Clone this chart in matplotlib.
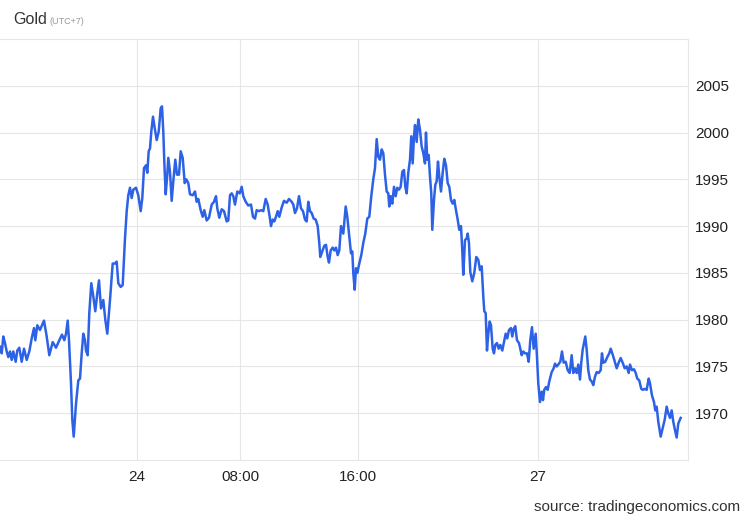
import matplotlib.pyplot as plt

plt.rcParams['font.family'] = ['Liberation Sans', 'DejaVu Sans']

# time position (chart time steps) and gold price
t = [0, 1.7, 3.3, 5, 6.7, 8.3, 10, 11.7, 13.3, 15.7, 17.3, 19.3, 21.7, 24, 26.7, 29.3,
     31.7, 34, 35.3, 37.3, 40, 44, 46.7, 49.3, 52.7, 56, 59.3, 62, 64.3, 66, 67.7, 69,
     71, 72.3, 73.7, 76, 78.3, 80, 81.7, 83.3, 85, 86, 87.7, 89.3, 91.3, 93.3, 95.3, 97.3,
     99, 101, 103.3, 105.3, 107.3, 110, 112.7, 115, 116.7, 118.3, 120.7, 122.7, 125, 126.7,
     128.3, 130, 131.7, 133.3, 136, 138.3, 140.7, 142.3, 144, 146, 147.3, 148.7, 150, 151.3,
     153, 154.7, 156.7, 158.7, 160.7, 162, 163.3, 164.3, 165.7, 167.3, 168.3, 170, 171.7,
     173.3, 175.3, 177, 179, 180.7, 182.7, 184.7, 186.3, 188.3, 190, 192.7, 195, 196.7,
     198.3, 200.7, 202.7, 204.3, 206.7, 209, 211.7, 214, 216, 217.3, 219.3, 221.7, 224,
     226.7, 228.3, 230, 231.7, 233.3, 235, 237.3, 239.7, 241.7, 243.3, 245.7, 248.3, 251,
     253, 255, 256.7, 259, 261, 263.3, 265.7, 267.7, 269.7, 271, 272.7, 274.3, 276, 277.7,
     279.3, 281.7, 284, 286.7, 289, 291.7, 293.3, 295, 297, 299, 301, 303, 305, 306.7,
     308.3, 310, 311.7, 313.7, 315.7, 317.7, 319.3, 320.3, 322.3, 324.3, 326, 327.7, 329,
     330.7, 332.7, 334.3, 336, 337.7, 339.3, 341, 343.3, 345.7, 347.3, 349.3, 351, 352.3,
     353.3, 354.7, 356, 357.3, 359.3, 361.3, 363.3, 365.3, 367.3, 369.3, 371.3, 373.3, 375,
     376.7, 378.3, 380, 381.7, 383.3, 385, 386.7, 388.3, 389.3, 390.7, 392.3, 394, 395.7,
     397.3, 399, 400.7, 402.3, 404, 405.3, 406.7, 408.3, 410, 411.3, 412.7, 414, 415,
     416.7, 418.3, 420, 421.7, 423.3, 425, 426, 427.3, 428.7, 430, 431.3, 432.3, 434,
     435.3, 436.7, 438, 439.3, 441, 442.7, 444.3, 446, 447.7, 449.3, 451, 452.7, 454.3,
     456, 457.7, 459.3, 461, 462.3, 463.3, 465, 466.7, 467.7, 469, 470.3, 472.3, 474.3,
     476.3, 478.3, 480, 481.7, 483.3, 484.3, 485.7, 487, 488.3, 489.7, 491, 492.7, 494,
     495.3, 497, 498.7, 500.3, 502.3, 504, 505.7, 507.3, 509, 511, 512.3, 513.7, 515.3,
     517, 519, 520.3, 521.7, 523.3, 525, 527, 528.7, 530.3, 532, 533.7, 535.7, 537, 538.3,
     540, 541.7, 543, 544.3, 546, 547.7, 549.3, 551.7, 553.7, 555, 556.7, 558.3, 560.3,
     562, 563.7, 565.7, 567.7, 569.7, 571.7, 573.3, 575, 576.7, 578.3, 580, 581.3, 582.7,
     584, 585.3, 586.7, 588.3, 590, 591.7, 593.3, 595, 596.7, 598.7, 600.7, 602, 603.3,
     605.3, 607.3, 609.3, 610.7, 612.3, 614.3, 616.7, 618.7, 620.7, 622.7, 624.7, 626.7,
     628.7, 630, 632, 634, 635.7, 637.3, 639.3, 641.3, 643, 644.7, 646.7, 648.7, 650, 652,
     654, 655.3, 656.7, 658.3, 660.7, 662.7, 664.7, 666.7, 668.3, 670, 671.7, 673.3, 675,
     676.7, 678.3, 680.7]

price = [1977.1, 1976.4, 1978.2, 1977.5, 1976.6, 1976.0, 1976.6, 1975.7, 1976.6, 1975.5,
         1976.7, 1977.0, 1975.5, 1976.9, 1975.7, 1976.6, 1978.0, 1979.1, 1977.8, 1979.4,
         1978.9, 1979.9, 1978.2, 1976.2, 1977.6, 1977.0, 1977.8, 1978.4, 1977.8, 1978.5,
         1979.9, 1977.8, 1973.2, 1969.3, 1967.5, 1971.0, 1973.5, 1973.7, 1976.4, 1978.5,
         1977.8, 1976.7, 1976.2, 1980.7, 1983.9, 1982.5, 1980.9, 1982.8, 1984.2, 1981.2,
         1982.1, 1980.0, 1978.5, 1982.1, 1986.0, 1986.0, 1986.2, 1983.9, 1983.5, 1983.7,
         1988.7, 1991.6, 1993.3, 1994.1, 1993.0, 1993.9, 1994.1, 1993.3, 1991.6, 1993.0,
         1996.2, 1996.5, 1995.7, 1998.0, 1998.3, 2000.1, 2001.7, 2000.5, 1999.2, 2000.1,
         2002.6, 2002.8, 2000.1, 1996.9, 1993.4, 1995.5, 1997.3, 1995.8, 1992.7, 1994.8,
         1997.1, 1995.5, 1995.5, 1998.0, 1997.3, 1994.6, 1995.0, 1994.6, 1993.4, 1993.3,
         1993.7, 1992.6, 1992.9, 1991.7, 1991.0, 1991.7, 1990.6, 1990.9, 1992.3, 1992.6,
         1993.2, 1991.9, 1990.9, 1991.8, 1991.6, 1990.5, 1990.6, 1993.3, 1993.5, 1993.2,
         1992.3, 1993.7, 1993.5, 1994.2, 1993.2, 1992.6, 1992.2, 1992.3, 1991.0, 1990.8,
         1991.7, 1991.6, 1991.7, 1991.6, 1992.9, 1992.3, 1991.0, 1990.0, 1990.7, 1990.5,
         1991.0, 1991.6, 1991.0, 1992.0, 1992.7, 1992.5, 1992.9, 1992.6, 1992.3, 1991.4,
         1991.9, 1993.2, 1991.9, 1991.6, 1990.7, 1990.5, 1992.6, 1991.6, 1991.4, 1990.8,
         1990.7, 1990.0, 1988.2, 1986.7, 1987.3, 1987.9, 1988.0, 1986.7, 1986.1, 1987.4,
         1987.7, 1987.4, 1987.7, 1986.9, 1987.4, 1990.0, 1989.2, 1992.1, 1991.0, 1988.9,
         1987.1, 1987.3, 1985.0, 1983.2, 1985.5, 1985.0, 1986.0, 1986.9, 1988.2, 1989.2,
         1990.8, 1991.0, 1993.2, 1995.0, 1996.2, 1999.3, 1997.4, 1997.1, 1998.2, 1997.8,
         1995.5, 1993.7, 1993.5, 1992.1, 1993.2, 1992.4, 1994.2, 1993.2, 1994.1, 1993.9,
         1994.2, 1995.8, 1996.0, 1994.2, 1993.5, 1995.7, 1997.1, 1999.6, 1996.7, 1999.6,
         2000.8, 1999.0, 2001.4, 2000.3, 1998.5, 1997.8, 1996.7, 2000.0, 1997.1, 1997.6,
         1995.3, 1993.5, 1989.6, 1992.8, 1994.4, 1994.8, 1996.9, 1995.3, 1993.7, 1995.7,
         1997.2, 1996.5, 1994.6, 1994.2, 1992.8, 1992.4, 1992.8, 1991.7, 1990.7, 1989.6,
         1990.0, 1987.4, 1984.8, 1988.5, 1988.7, 1989.2, 1988.2, 1985.1, 1984.1, 1985.0,
         1986.7, 1986.4, 1985.3, 1985.7, 1982.5, 1980.9, 1980.7, 1976.7, 1978.5, 1979.8,
         1979.4, 1976.9, 1976.4, 1977.3, 1977.5, 1976.9, 1977.3, 1976.7, 1977.6, 1978.5,
         1978.0, 1978.9, 1979.1, 1978.2, 1979.0, 1979.3, 1977.8, 1977.5, 1976.9, 1976.2,
         1976.6, 1976.4, 1976.4, 1975.5, 1977.8, 1979.2, 1976.9, 1978.5, 1976.0, 1973.2,
         1971.2, 1972.3, 1971.4, 1972.5, 1972.8, 1972.5, 1973.4, 1974.4, 1974.8, 1975.3,
         1975.0, 1975.2, 1975.5, 1976.6, 1975.4, 1975.5, 1974.6, 1974.3, 1976.2, 1974.3,
         1974.8, 1974.3, 1975.2, 1973.6, 1975.4, 1976.8, 1977.5, 1978.2, 1976.8, 1974.6,
         1973.6, 1973.4, 1973.0, 1973.9, 1974.4, 1974.3, 1974.6, 1976.4, 1975.4, 1975.5,
         1976.0, 1976.4, 1976.9, 1976.4, 1975.7, 1974.8, 1975.4, 1975.9, 1975.4, 1974.8,
         1975.0, 1974.3, 1975.2, 1974.6, 1974.7, 1974.3, 1973.7, 1973.5, 1972.6, 1972.5,
         1972.6, 1972.5, 1973.7, 1973.2, 1971.9, 1971.2, 1970.3, 1970.7, 1969.1, 1967.5,
         1968.4, 1969.3, 1970.7, 1970.0, 1969.5, 1970.3, 1969.1, 1968.2, 1967.4, 1968.9,
         1969.5]

tick_pos = [137, 240, 358, 538]
tick_labels = ['24', '08:00', '16:00', '27']
y_ticks = [1970, 1975, 1980, 1985, 1990, 1995, 2000, 2005]

fig = plt.figure(figsize=(7.5, 5.2), dpi=100)
ax = fig.add_axes([0.0, 0.1154, 0.9173, 0.8096])

ax.plot(t, price, color='#2d62e6', lw=1.8, solid_joinstyle='round')

ax.set_xlim(0, 688)
ax.set_ylim(1965, 2010)
ax.set_xticks(tick_pos)
ax.set_xticklabels(tick_labels)
ax.set_yticks(y_ticks)
ax.yaxis.tick_right()
ax.tick_params(axis='both', length=0, labelsize=11, labelcolor='#222222')
ax.tick_params(axis='y', pad=5)
ax.tick_params(axis='x', pad=7)

ax.grid(True, color='#e6e6e6', lw=0.8)
ax.set_axisbelow(True)
ax.spines['left'].set_visible(False)
ax.spines['top'].set_color('#e6e6e6')
ax.spines['right'].set_color('#e6e6e6')
ax.spines['bottom'].set_color('#e6e6e6')

fig.text(0.018, 0.962, 'Gold', fontsize=11.5, color='#333333', va='center')
fig.text(0.066, 0.958, '(UTC+7)', fontsize=6.5, color='#999999', va='center')
fig.text(0.987, 0.025, 'source: tradingeconomics.com', fontsize=11, color='#333333',
         ha='right', va='center')

fig.savefig('out.png', dpi=100)
